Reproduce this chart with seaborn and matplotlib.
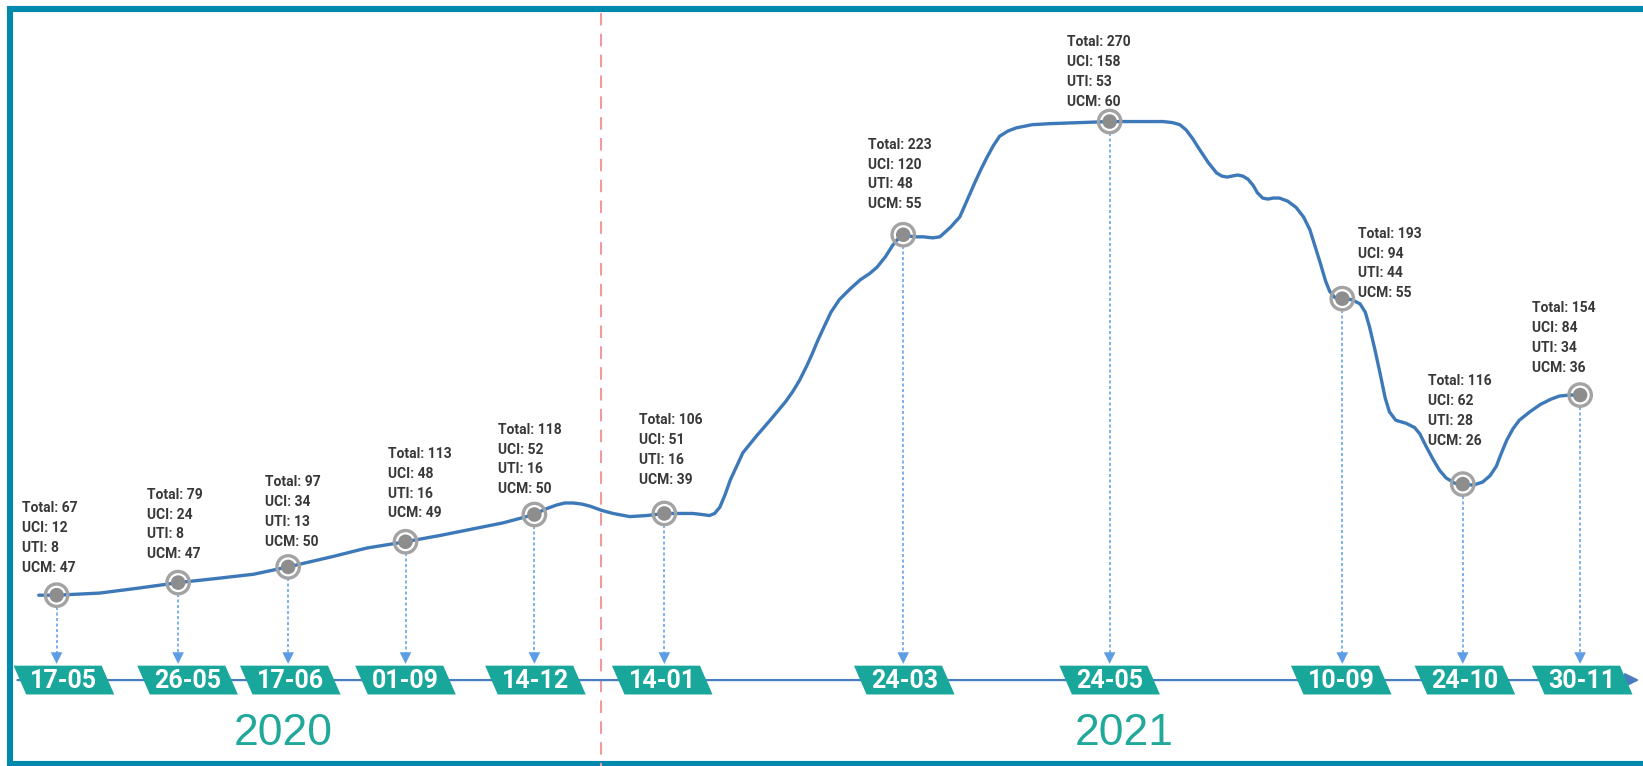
import matplotlib

matplotlib.use("Agg")

import matplotlib.pyplot as plt
import numpy as np
import seaborn as sns
from matplotlib.patches import Polygon

# --- data ---
dates = ["17-05", "26-05", "17-06", "01-09", "14-12", "14-01", "24-03", "24-05", "10-09", "24-10", "30-11"]
years = [2020, 2020, 2020, 2020, 2020, 2021, 2021, 2021, 2021, 2021, 2021]
total = [67, 79, 97, 113, 118, 106, 223, 270, 193, 116, 154]
uci = [12, 24, 34, 48, 52, 51, 120, 158, 94, 62, 84]
uti = [8, 8, 13, 16, 16, 16, 48, 53, 44, 28, 34]
ucm = [47, 47, 50, 49, 50, 39, 55, 60, 55, 26, 36]

# hand-drawn trend curve (canvas units, y grows downwards)
curve_x = [37, 54, 95, 134, 170, 207, 242, 275, 318, 350, 387, 420, 450, 480, 510, 520, 531, 539,
           547, 555, 563, 574, 585, 601, 617, 634, 661, 670, 677, 682, 687, 692, 697, 709, 722, 735,
           750, 757, 763, 770, 775, 780, 785, 793, 801, 811, 821, 830, 837, 845, 852, 857, 862, 867,
           872, 881, 890, 897, 907, 916, 923, 930, 936, 942, 948, 954, 962, 970, 985, 1002, 1059,
           1110, 1119, 1126, 1132, 1138, 1145, 1153, 1161, 1166, 1171, 1176, 1181, 1186, 1191, 1196,
           1200, 1205, 1210, 1215, 1221, 1229, 1237, 1244, 1250, 1255, 1260, 1265, 1269, 1274, 1281,
           1290, 1298, 1303, 1307, 1312, 1317, 1322, 1326, 1332, 1342, 1350, 1355, 1361, 1368, 1374,
           1380, 1388, 1396, 1406, 1415, 1422, 1428, 1433, 1438, 1444, 1450, 1460, 1470, 1480, 1488,
           1498, 1508]
curve_y = [568, 568, 566, 561, 556, 552, 548, 541, 531, 523, 517, 511, 505, 499, 491, 486, 482, 480,
           480, 481, 483, 487, 490, 493, 492, 490, 490, 491, 492, 490, 484, 472, 458, 432, 416, 401,
           383, 373, 363, 349, 338, 326, 315, 298, 286, 276, 267, 261, 255, 245, 234, 228, 224, 225,
           226, 226, 227, 226, 217, 207, 191, 175, 162, 150, 139, 130, 125, 122, 119, 118, 116,
           116, 117, 119, 124, 132, 143, 155, 165, 168, 169, 168, 167, 168, 171, 177,
           184, 189, 190, 189, 189, 192, 198, 207, 219, 235, 251, 268, 278, 284, 285,
           286, 290, 298, 312, 333, 356, 380, 393, 401, 404, 408, 414, 426, 439, 449,
           456, 461, 462, 463, 460, 454, 445, 432, 420, 409, 401, 393, 386, 381, 378,
           377, 377]

# --- layout (canvas units) ---
W, H = 1568, 731
slot_x = [54, 170, 275, 387, 510, 634, 862, 1059, 1281, 1396, 1508]
tag_shift = [7, 9, 2, 0, 1, -2, 1, 0, -1, 2, 2]
label_dx = [-33, -30, -22, -17, -35, -24, -34, -41, 15, -33, -46]
label_dy = [-83, -84, -81, -84, -81, -89, -86, -76, -62, -98, -83]
year_x = {2020: 270, 2021: 1073}
axis_y = 649
split_x = 574

TEAL = "#19a79b"
LINE_BLUE = "#3d79b8"
DROP_BLUE = "#5c9de6"
FRAME = "#0088ad"

sns.set_theme(style="white")
plt.rcParams["font.family"] = ["Roboto", "DejaVu Sans"]

fig = plt.figure(figsize=(16.43, 7.66), dpi=100)
ax = fig.add_axes([0, 0, 1, 1])
ax.set_xlim(0, W)
ax.set_ylim(H, 0)
ax.axis("off")

# frame
ax.plot([W + 5, 9.7, 9.7, W + 5], [8.6, 8.6, 729.5, 729.5], color=FRAME, lw=4.4,
        solid_joinstyle="miter", solid_capstyle="butt", zorder=1)

# year divider
ax.plot([split_x, split_x], [12, H], color="#f29a9a", lw=1.5, ls=(0, (6, 4)), zorder=1)

# time axis with arrow
ax.annotate("", xy=(W - 1, axis_y), xytext=(14, axis_y),
            arrowprops=dict(arrowstyle="-|>,head_length=0.7,head_width=0.35", color="#4a7cc0", lw=1.6),
            zorder=2)

# trend curve
sns.lineplot(x=curve_x, y=curve_y, sort=False, estimator=None, ax=ax, color=LINE_BLUE,
             linewidth=2.4, zorder=3)
ax.lines[-1].set_solid_joinstyle("round")
ax.lines[-1].set_solid_capstyle("round")

marker_y = np.interp(slot_x, curve_x, curve_y)

# markers: ring plus dot
sns.scatterplot(x=slot_x, y=marker_y, ax=ax, s=260, facecolor="none", edgecolor="#a3a3a3",
                linewidth=2.4, zorder=4)
sns.scatterplot(x=slot_x, y=marker_y, ax=ax, s=110, color="#8d8d8d", edgecolor="none", zorder=5)

tag_h, tag_w, tag_s = 27.5, 84, 12
for i, d in enumerate(dates):
    x = slot_x[i]
    y = marker_y[i]
    # dotted drop line with head
    ax.plot([x, x], [y + 11, axis_y - 22], color=DROP_BLUE, lw=1.1, ls=(0, (2, 1.6)), zorder=2)
    ax.scatter([x], [axis_y - 21], marker="v", s=70, color=DROP_BLUE, edgecolor="none", zorder=2)

    # date tag
    cx = x + tag_shift[i]
    top, bot = axis_y - tag_h / 2, axis_y + tag_h / 2
    poly = Polygon([(cx - tag_w / 2 - tag_s / 2, top), (cx + tag_w / 2 - tag_s / 2, top),
                    (cx + tag_w / 2 + tag_s / 2, bot), (cx - tag_w / 2 + tag_s / 2, bot)],
                   closed=True, facecolor=TEAL, edgecolor="none", zorder=6)
    ax.add_patch(poly)
    ax.text(cx, axis_y + 0.5, d, ha="center", va="center", color="white", fontsize=18,
            fontweight="bold", zorder=7)

    # value label
    lines = [f"Total: {total[i]}", f"UCI: {uci[i]}", f"UTI: {uti[i]}", f"UCM: {ucm[i]}"]
    lx = x + label_dx[i]
    ly = y + label_dy[i]
    for k, txt in enumerate(lines):
        ax.text(lx, ly + k * 19, txt, ha="left", va="center", color="#383838", fontsize=10,
                fontweight="bold", zorder=7)

for yr, xc in year_x.items():
    ax.text(xc, 700, str(yr), ha="center", va="center", color="#20a89b", fontsize=32,
            family=["Liberation Sans", "DejaVu Sans"], zorder=7)

fig.savefig("out.png", dpi=100, facecolor="white")
